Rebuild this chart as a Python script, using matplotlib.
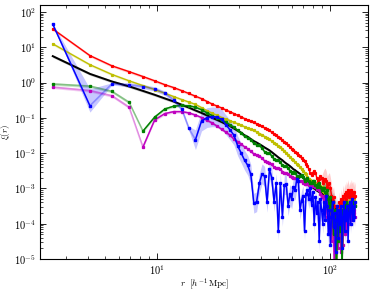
import numpy as np
import matplotlib
matplotlib.use("Agg")
import matplotlib.pyplot as plt
from matplotlib.ticker import NullFormatter, FixedLocator, LogLocator

plt.rcParams['font.family'] = ['cmr10', 'DejaVu Serif']
plt.rcParams['mathtext.fontset'] = 'cm'
plt.rcParams['axes.formatter.use_mathtext'] = True

# separations r [h^-1 Mpc]
r = [2.5, 4.1, 5.5, 6.9, 8.3, 9.7, 11.1, 12.5, 13.9, 15.3, 16.7, 18.1, 19.5, 20.9, 22.3,
     23.7, 25.1, 26.5, 27.9, 29.3, 30.7, 32.1, 33.5, 34.9, 36.3, 37.7, 39.1, 40.5, 41.9,
     43.3, 44.7, 46.1, 47.5, 48.9, 50.3, 51.7, 53.1, 54.5, 55.9, 57.3, 58.7, 60.1, 61.5,
     62.9, 64.3, 65.7, 67.1, 68.5, 69.9, 71.3, 72.7, 74.1, 75.5, 76.9, 78.3, 79.7, 81.1,
     82.5, 83.9, 85.3, 86.7, 88.1, 89.5, 90.9, 92.3, 93.7, 95.1, 96.5, 97.9, 99.3, 100.7,
     102.1, 103.5, 104.9, 106.3, 107.7, 109.1, 110.5, 111.9, 113.3, 114.7, 116.1, 117.5,
     118.9, 120.3, 121.7, 123.1, 124.5, 125.9, 127.3, 128.7, 130.1, 131.5, 132.9, 134.3,
     135.7, 137.1, 138.5, 139.9]

xi_red = [33,
    5.8, 2.97, 2.04, 1.48, 1.12, 0.87, 0.72, 0.59, 0.49, 0.41,
    0.35, 0.29, 0.245, 0.214, 0.19, 0.166, 0.148, 0.132, 0.117, 0.107,
    0.095, 0.087, 0.081, 0.074, 0.068, 0.063, 0.058, 0.052, 0.048, 0.044,
    0.039, 0.035, 0.032, 0.029, 0.026, 0.023, 0.021, 0.019, 0.017, 0.015,
    0.0135, 0.0123, 0.011, 0.010, 0.0091, 0.0083, 0.0072, 0.0065, 0.0058, 0.0050,
    0.0044, 0.0035, 0.0028, 0.0024, 0.0028, 0.0032, 0.0028, 0.0020, 0.0016, 0.0019,
    0.0022, 0.0020, 0.0014, 0.0017, 0.0019, 0.0016, 0.0011, 0.0013, 0.0014, 0.0010,
    6.3e-4, 4.5e-4, 5.6e-4, 3.2e-4, 1.3e-4, 2.5e-4, 6.3e-5, 1.6e-4, 4e-4, 2e-4,
    5e-4, 3.2e-4, 6.3e-4, 4e-4, 7e-4, 5e-4, 8e-4, 6.3e-4, 9e-4, 5.6e-4,
    8e-4, 6.3e-4, 9e-4, 7e-4, 8e-4, 5.6e-4, 8e-4, 6.3e-4]

xi_yellow = [12.5,
    3.2, 1.69, 1.12, 0.82, 0.63, 0.50, 0.40, 0.33, 0.28, 0.24,
    0.195, 0.158, 0.135, 0.117, 0.102, 0.091, 0.083, 0.074, 0.068, 0.062,
    0.056, 0.051, 0.048, 0.044, 0.040, 0.036, 0.033, 0.0295, 0.0275, 0.0245,
    0.022, 0.020, 0.0178, 0.0162, 0.0148, 0.0132, 0.0115, 0.0102, 0.0091, 0.0079,
    0.0069, 0.0062, 0.0056, 0.0049, 0.0045, 0.0040, 0.0035, 0.0032, 0.0028, 0.0025,
    0.0021, 0.0019, 0.0017, 0.0016, 0.00145, 0.00135, 0.00138, 0.0013, 0.0012, 0.0013,
    0.00117, 0.00107, 8.7e-4, 7.9e-4, 7.6e-4, 6.3e-4, 5.6e-4, 5.0e-4, 3.5e-4, 1.3e-4,
    2.5e-4, 3.2e-5, 2e-4, 6.3e-5, 1.6e-4, 5e-6, 1.3e-4, 5e-5, 2e-4, 1e-4,
    2.5e-4, 1.3e-4, 3.2e-4, 1.6e-4, 3.5e-4, 2.5e-4, 4e-4, 2.8e-4, 4.5e-4, 3.2e-4,
    4e-4, 5e-4, 3.5e-4, 4.5e-4, 3.2e-4, 4e-4, 5e-4, 3.5e-4]

xi_black = [5.6,
    1.76, 1.07, 0.78, 0.58, 0.45, 0.355, 0.29, 0.235, 0.195, 0.162,
    0.138, 0.117, 0.10, 0.087, 0.076, 0.066, 0.058, 0.050, 0.043, 0.038,
    0.032, 0.029, 0.025, 0.022, 0.020, 0.018, 0.0162, 0.0145, 0.0132, 0.012,
    0.0107, 0.0095, 0.0085, 0.0076, 0.0069, 0.0063, 0.0056, 0.0051, 0.0047, 0.0043,
    0.0039, 0.0035, 0.0033, 0.0030, 0.0028, 0.0026, 0.0024, 0.0021, 0.0019, 0.00166,
    0.00145, 0.0013, 0.0012, 0.00112, 0.00105, 0.0010, 9.3e-4, 8.7e-4, 8.3e-4, 7.9e-4,
    7.6e-4, 7.2e-4, 7.1e-4, 6.8e-4, 6.6e-4, 6.3e-4, 5.6e-4, 6e-4, 5e-4, 4.5e-4,
    5e-4, 3.2e-4, 4e-4, 2.5e-4, 3.2e-4, 1.6e-4, 2.5e-4, 6.3e-5, 2e-4, 1.3e-4,
    2.5e-4, 1.6e-4, 2e-4, 1.3e-4, 2.5e-4, 2e-4, 3.2e-4, 2.5e-4, 2e-4, 3.2e-4,
    2.5e-4, 4e-4, 3.2e-4, 2.5e-4, 3.2e-4, 4e-4, 3.2e-4, 3.5e-4]

xi_green = [0.91,
    0.79, 0.56, 0.275, 0.042, 0.105, 0.178, 0.214, 0.224, 0.22, 0.20,
    0.17, 0.138, 0.115, 0.098, 0.085, 0.076, 0.063, 0.054, 0.044, 0.037,
    0.030, 0.027, 0.024, 0.019, 0.0174, 0.0166, 0.0138, 0.011, 0.0102, 0.010,
    0.0083, 0.0068, 0.0063, 0.0065, 0.0055, 0.0045, 0.0043, 0.0044, 0.0037, 0.0032,
    0.0028, 0.0030, 0.00275, 0.0023, 0.0021, 0.0022, 0.0024, 0.0021, 0.00166, 0.00174,
    0.0020, 0.00166, 0.00138, 0.00145, 0.00166, 0.0016, 0.00126, 0.00112, 0.00132, 0.0014,
    0.00112, 8.9e-4, 0.00105, 0.0010, 7.9e-4, 6.3e-4, 8.9e-4, 5e-4, 2.5e-4, 5.6e-4,
    1.6e-4, 4e-4, 5e-5, 2.5e-4, 1e-4, 3e-6, 1.3e-4, 3.2e-5, 1.6e-4, 6.3e-5,
    2.5e-4, 3e-6, 2e-4, 3.2e-4, 1.3e-4, 3.2e-4, 4e-4, 2.5e-4, 3.5e-4, 2e-4,
    4e-4, 2.8e-4, 4e-4, 2.5e-4, 3.5e-4, 3.2e-4, 4e-4, 3.2e-4]

xi_magenta = [0.74,
    0.59, 0.42, 0.20, 0.0148, 0.087, 0.132, 0.15, 0.15, 0.138, 0.12,
    0.102, 0.085, 0.071, 0.058, 0.047, 0.039, 0.032, 0.025, 0.021, 0.018,
    0.015, 0.0132, 0.0112, 0.0095, 0.0089, 0.0083, 0.0072, 0.006, 0.0055, 0.0054,
    0.0048, 0.004, 0.0037, 0.0038, 0.0035, 0.003, 0.0028, 0.00275, 0.0025, 0.0023,
    0.0021, 0.002, 0.002, 0.0018, 0.00166, 0.0016, 0.0016, 0.00145, 0.00132, 0.00132,
    0.00138, 0.00126, 0.00115, 0.00117, 0.00126, 0.0012, 0.00107, 9.5e-4, 0.001, 8.9e-4,
    7.1e-4, 5.6e-4, 6.3e-4, 5e-4, 3.2e-4, 4e-4, 1.6e-4, 3.2e-4, 6.3e-5, 2e-4,
    3.2e-5, 1.3e-4, 5e-5, 3e-6, 8e-5, 2.5e-5, 1e-4, 2e-5, 1.3e-4, 4e-5,
    1.6e-5, 1e-4, 2.5e-5, 1.6e-4, 5e-5, 2e-4, 6.3e-5, 2.5e-4, 1e-4, 2e-4,
    3.2e-4, 1.3e-4, 2.5e-4, 1.6e-4, 3.2e-4, 2e-4, 2.5e-4, 1.6e-4]

xi_blue = [45,
    0.22, 0.92, 0.86, 0.77, 0.66, 0.50, 0.32, 0.178, 0.05, 0.024,
    0.081, 0.102, 0.107, 0.105, 0.091, 0.063, 0.045, 0.032, 0.016, 0.010,
    0.0063, 0.0045, 0.0025, 3.8e-4, 4.2e-4, 0.0014, 0.0026, 0.0022, 4e-4, 0.0035,
    0.002, 4.2e-4, 0.0014, 6.3e-5, 0.0014, 1.6e-4, 0.00126, 0.0013, 3.2e-4, 6.8e-4,
    5e-4, 0.00112, 8.9e-4, 0.0018, 0.0016, 2.5e-4, 4.5e-4, 6.3e-4, 6.3e-5, 7.1e-4,
    8.9e-4, 5e-4, 0.001, 3.5e-4, 7.9e-4, 1e-4, 5.6e-4, 2e-4, 4e-4, 3.2e-5,
    5e-4, 2.5e-4, 1e-4, 4e-4, 1.3e-4, 6.3e-4, 3.2e-4, 5e-5, 2.5e-4, 2.5e-5,
    1.6e-4, 4e-4, 8e-5, 2e-4, 1.6e-5, 1.3e-4, 3.2e-4, 4e-5, 2.5e-4, 1e-4,
    3.2e-4, 2e-5, 1.6e-4, 4e-4, 6.3e-5, 2.5e-4, 1.3e-4, 3.2e-4, 3.2e-5, 2e-4,
    4e-4, 1e-4, 2.5e-4, 5e-4, 1.3e-4, 3.2e-4, 1.6e-4, 4e-4]

# axis tick values
x_major = [10, 100]
y_major = [1e-5, 1e-4, 1e-3, 1e-2, 1e-1, 1e0, 1e1, 1e2]

# half-width of the error bands, in dex
band_smooth_inner = 0.04   # r < 90
band_smooth_outer = 0.30   # noisy tail
band_blue_first = [(0.02, 0.02), (0.18, 0.48), (0.03, 0.03)]
band_blue_mid = 0.06
band_blue_tail = 0.28

# index from which the dark line is drawn (earlier segments appear light)
dark_from = {'g': 4, 'm': 4}

r = np.array(r)
fig = plt.figure(figsize=(3.74, 2.92), dpi=100)
ax = fig.add_axes([0.107, 0.113, 0.877, 0.870])
ax.set_xscale('log')
ax.set_yscale('log')

def band_arrays(y, inner, outer):
    y = np.array(y)
    d = np.where(r < 90, inner, outer)
    return y * 10 ** (-d), y * 10 ** d

series = [('k', xi_black), ('r', xi_red), ('y', xi_yellow), ('g', xi_green), ('m', xi_magenta)]
for c, y in series:
    lo, hi = band_arrays(y, band_smooth_inner, band_smooth_outer)
    ax.fill_between(r, lo, hi, color=c, alpha=0.2, lw=0)

# blue band
yb = np.array(xi_blue)
dlo = np.array([b[0] for b in band_blue_first] + [band_blue_mid] * 7 + [band_blue_tail] * (len(r) - 10))
dhi = np.array([b[1] for b in band_blue_first] + [band_blue_mid] * 7 + [band_blue_tail] * (len(r) - 10))
ax.fill_between(r, yb * 10 ** (-dlo), yb * 10 ** dhi, color='b', alpha=0.22, lw=0)

# black model line
ax.plot(r, xi_black, color='k', lw=1.4)

# red & yellow
for c, y in [('y', xi_yellow), ('r', xi_red)]:
    ax.plot(r, y, color=c, lw=1.0, marker='s', ms=1.3, mec=c, mfc=c)

# green & magenta: light line throughout, dark line from dark_from
for c, y in [('m', xi_magenta), ('g', xi_green)]:
    y = np.array(y, dtype=float)
    ax.plot(r, y, color=c, lw=1.2, alpha=0.35)
    yd = y.copy()
    yd[:dark_from[c]] = np.nan
    ax.plot(r, yd, color=c, lw=1.0)
    ax.plot(r, y, ls='none', marker='s', ms=1.4, color=c)

# blue
yb = np.array(xi_blue, dtype=float)
ax.plot(r, yb, color='b', lw=1.2, alpha=0.3)
yd = yb.copy()
yd[2:10] = np.nan
ax.plot(r, yd, color='b', lw=1.0)
ax.plot(r, yb, ls='none', marker='s', ms=1.5, color='b')

ax.set_xlim(2.11, 166)
ax.set_ylim(1e-5, 158)
ax.xaxis.set_major_locator(FixedLocator(x_major))
ax.yaxis.set_major_locator(FixedLocator(y_major))
ax.xaxis.set_minor_locator(LogLocator(base=10, subs=np.arange(2, 10), numticks=20))
ax.yaxis.set_minor_locator(LogLocator(base=10, subs=np.arange(2, 10), numticks=20))
ax.xaxis.set_minor_formatter(NullFormatter())
ax.yaxis.set_minor_formatter(NullFormatter())
ax.tick_params(which='both', direction='in', top=True, right=True, labelsize=7.5)
ax.tick_params(which='major', length=4, width=0.6, pad=3)
ax.tick_params(which='minor', length=2, width=0.5)
ax.set_xlabel(r'$r\ \ [h^{-1}\,\mathrm{Mpc}]$', fontsize=6.5)
ax.set_ylabel(r'$\xi(r)$', fontsize=6.5)
ax.xaxis.set_label_coords(0.5, -0.068)
ax.yaxis.set_label_coords(-0.085, 0.5)
for s in ax.spines.values():
    s.set_linewidth(0.8)

fig.savefig('out.png', dpi=100)
